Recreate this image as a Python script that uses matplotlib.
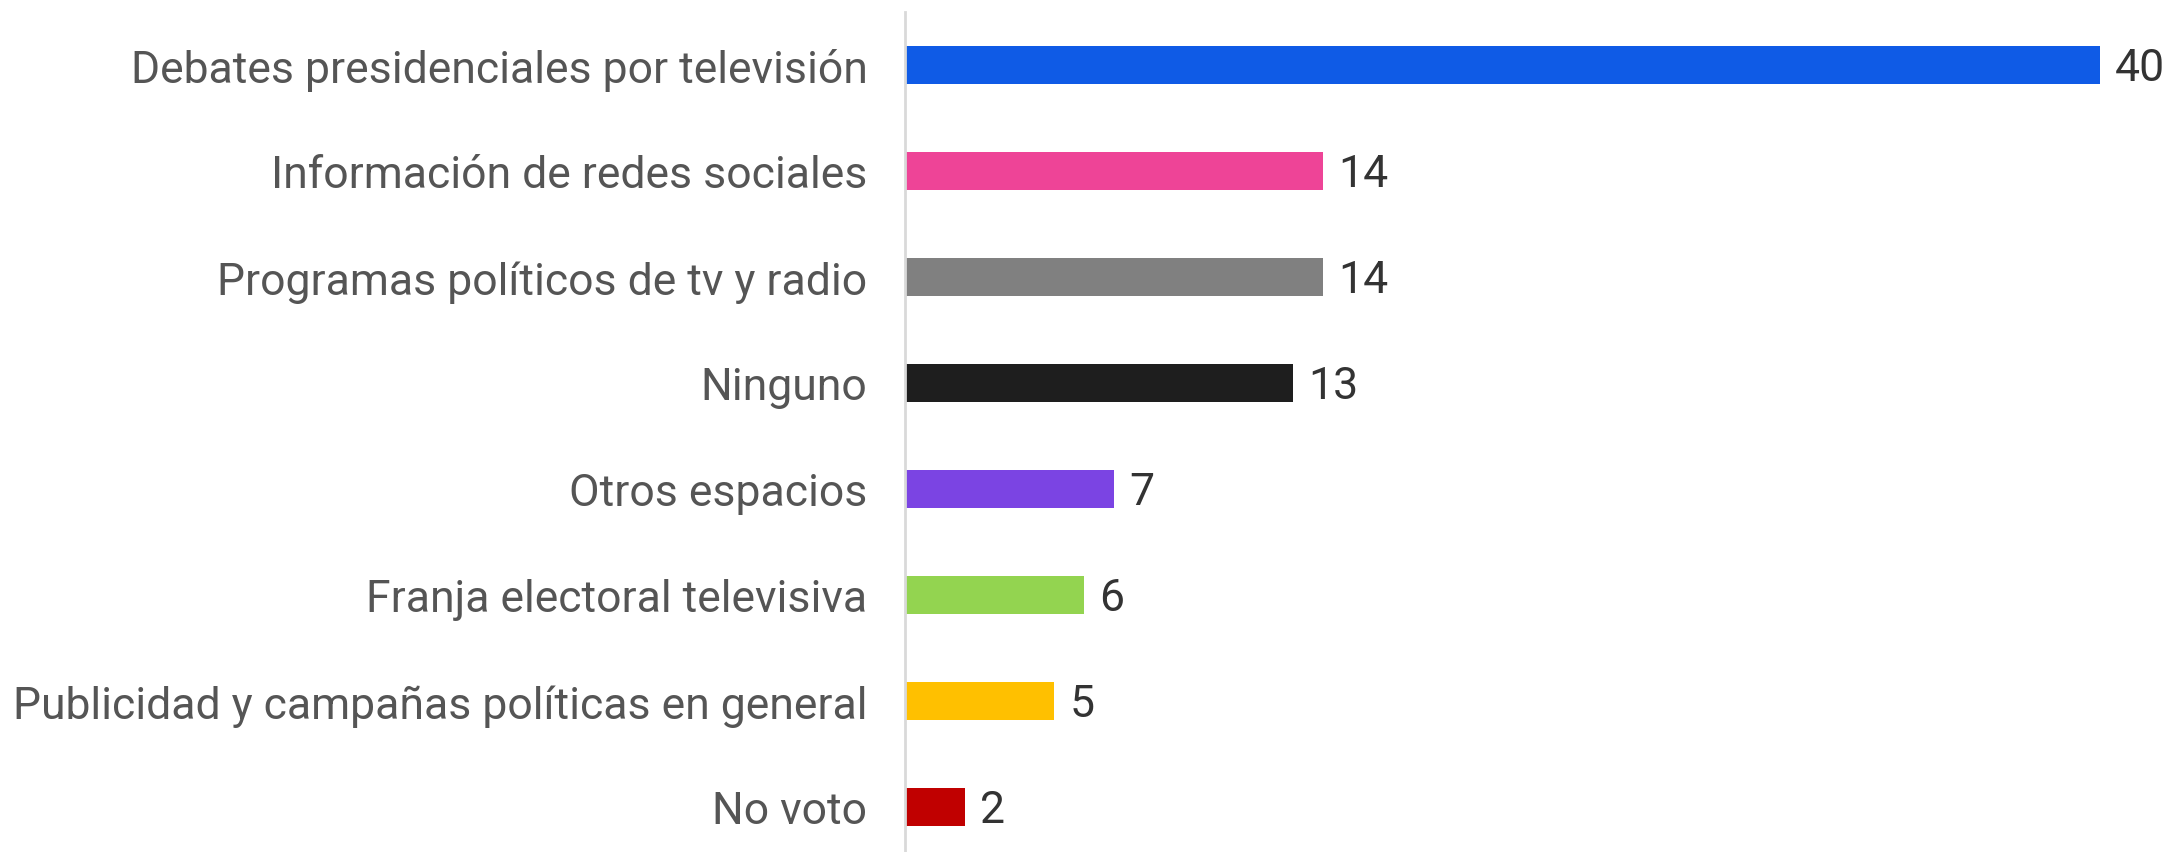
import matplotlib
matplotlib.use("Agg")
import matplotlib.pyplot as plt

# categories, top to bottom
categorias = [
    "Debates presidenciales por televisión",
    "Información de redes sociales",
    "Programas políticos de tv y radio",
    "Ninguno",
    "Otros espacios",
    "Franja electoral televisiva",
    "Publicidad y campañas políticas en general",
    "No voto",
]
valores = [40, 14, 14, 13, 7, 6, 5, 2]
colores = ["#0F5BE6", "#EE4497", "#808080", "#1E1E1E",
           "#7B44E3", "#93D450", "#FFC000", "#C00000"]

plt.rcParams["font.family"] = ["Roboto", "DejaVu Sans"]

fig = plt.figure(figsize=(21.72, 8.53), dpi=100)
ax = fig.add_axes([905 / 2172, 0.0, 1 - 905 / 2172, 1 - 13 / 853])

pos = list(range(len(categorias)))
ax.barh(pos, valores, height=0.36, color=colores)

for p, v in zip(pos, valores):
    ax.text(v + 0.5, p + 0.03, str(v), va="center", ha="left",
            fontsize=32, color="#333333")

ax.set_xlim(0, 40 * 1267 / 1195)
ax.set_ylim(7.425, -0.5)
ax.set_yticks(pos)
ax.set_yticklabels(categorias, fontsize=32, color="#555555")
ax.tick_params(axis="y", length=0, pad=27)
ax.set_xticks([])

for s in ["top", "right", "bottom"]:
    ax.spines[s].set_visible(False)
ax.spines["left"].set_color("#D9D9D9")
ax.spines["left"].set_linewidth(2)

fig.savefig("out.png", dpi=100)
